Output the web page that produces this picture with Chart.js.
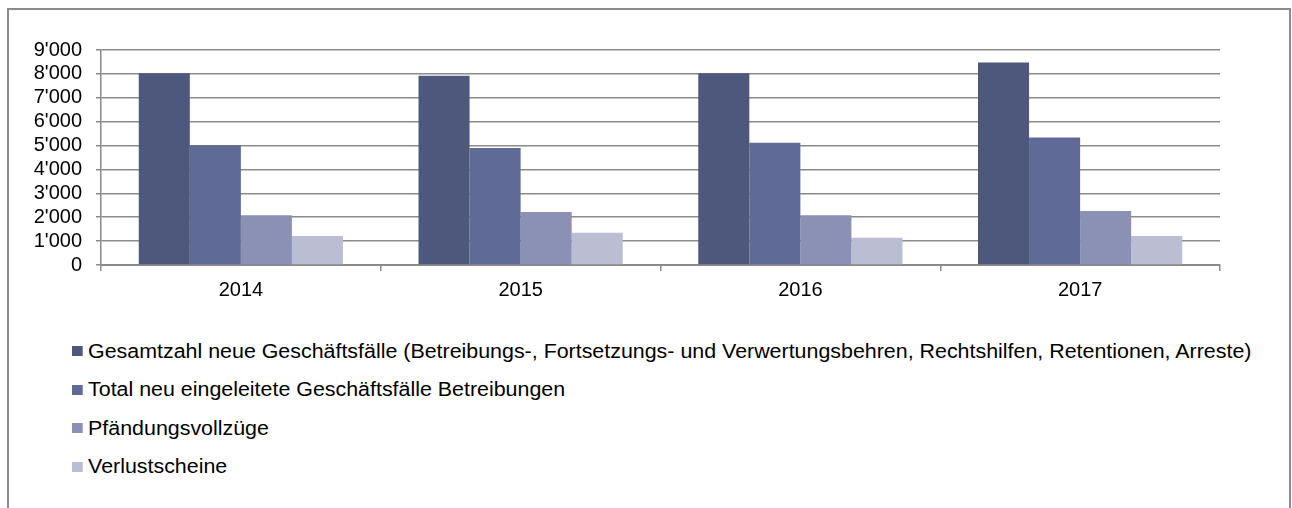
<!DOCTYPE html>
<html lang="de">
<head>
<meta charset="utf-8">
<title>Geschäftsfälle 2014–2017</title>
<script src="https://cdn.jsdelivr.net/npm/chart.js@4/dist/chart.umd.min.js"></script>
<style>
  html, body { margin: 0; padding: 0; background: #fff; }
  body { width: 1292px; height: 508px; overflow: hidden; position: relative; font-family: "Liberation Sans", Arial, sans-serif; }
  .frame { position: absolute; left: 7px; top: 8px; width: 1284px; height: 520px; border: 2px solid #8c8c8c; box-sizing: border-box; }
  .chart-box { position: absolute; left: 0; top: 0; width: 1292px; height: 305px; }
  #legend { position: absolute; left: 72px; top: 332px; list-style: none; margin: 0; padding: 0; transform: scaleX(1.07); transform-origin: 0 0; }
  #legend li { display: flex; align-items: center; height: 38.5px; font-size: 20px; color: #000; white-space: nowrap; }
  #legend .box { width: 10px; height: 10px; margin-right: 5px; display: inline-block; }
</style>
</head>
<body>
<div class="frame"></div>
<div class="chart-box"><canvas id="myChart"></canvas></div>
<ul id="legend"></ul>
<script>
// Years on the x axis
const years = ['2014', '2015', '2016', '2017'];

// Series names (legend)
const seriesNames = [
  'Gesamtzahl neue Geschäftsfälle (Betreibungs-, Fortsetzungs- und Verwertungsbehren, Rechtshilfen, Retentionen, Arreste)',
  'Total neu eingeleitete Geschäftsfälle Betreibungen',
  'Pfändungsvollzüge',
  'Verlustscheine'
];

// Values
const gesamtzahl = [8030, 7920, 8030, 8480];
const betreibungen = [5010, 4900, 5120, 5340];
const pfaendungen = [2080, 2220, 2080, 2260];
const verlustscheine = [1210, 1350, 1140, 1210];

// Bar colours, darkest first
const barColors = ['#4e587d', '#5f6a97', '#8a91b4', '#bbbed2'];

const gridColor = '#8a8a8a';
const fontFamily = '"Liberation Sans", Arial, sans-serif';

// Format 9000 as 9'000
function swissNumber(value) {
  return String(value).replace(/\B(?=(\d{3})+(?!\d))/g, "'");
}

const seriesValues = [gesamtzahl, betreibungen, pfaendungen, verlustscheine];
const datasets = seriesNames.map((name, i) => ({
  label: name,
  data: seriesValues[i],
  backgroundColor: barColors[i],
  borderWidth: 0,
  categoryPercentage: 0.73,
  barPercentage: 1.0
}));

const ctx = document.getElementById('myChart').getContext('2d');
const myChart = new Chart(ctx, {
  type: 'bar',
  data: {
    labels: years,
    datasets: datasets
  },
  options: {
    responsive: true,
    maintainAspectRatio: false,
    animation: false,
    layout: {
      padding: { top: 50, right: 72, bottom: 0, left: 0 }
    },
    scales: {
      x: {
        grid: {
          offset: true,
          drawOnChartArea: false,
          drawTicks: true,
          tickLength: 6,
          color: gridColor,
          lineWidth: 1.5
        },
        border: { color: gridColor, width: 2 },
        ticks: {
          color: '#000',
          padding: 7,
          font: { family: fontFamily, size: 20 }
        },
        afterFit: scale => { scale.height = 40; }
      },
      y: {
        min: 0,
        max: 9000,
        ticks: {
          stepSize: 1000,
          autoSkip: false,
          color: '#000',
          padding: 14,
          font: { family: fontFamily, size: 20 },
          callback: value => swissNumber(value)
        },
        grid: {
          color: gridColor,
          lineWidth: 1.5,
          drawTicks: true,
          tickLength: 5
        },
        border: { color: gridColor, width: 1.5 },
        afterFit: scale => { scale.width = 101; }
      }
    },
    plugins: {
      legend: { display: false },
      tooltip: { enabled: false }
    }
  }
});

// Build a vertical legend below the chart from the dataset colours and labels
const legendList = document.getElementById('legend');
myChart.data.datasets.forEach(ds => {
  const item = document.createElement('li');
  const box = document.createElement('span');
  box.className = 'box';
  box.style.background = ds.backgroundColor;
  const text = document.createElement('span');
  text.textContent = ds.label;
  item.appendChild(box);
  item.appendChild(text);
  legendList.appendChild(item);
});
</script>
</body>
</html>
